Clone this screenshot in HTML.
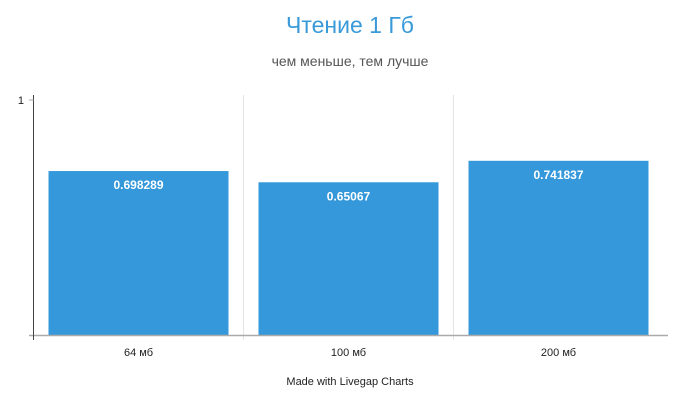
<!DOCTYPE html>
<html><head><meta charset="utf-8"><style>
body{margin:0;width:700px;height:400px;background:#fff;overflow:hidden;font-family:"Liberation Sans Narrow","Liberation Sans","DejaVu Sans",sans-serif;}
svg text{font-family:"Liberation Sans Narrow","Liberation Sans","DejaVu Sans",sans-serif;}
</style></head><body>
<svg id="chart" width="700" height="400" xmlns="http://www.w3.org/2000/svg">
<text x="350" y="33" text-anchor="middle" font-size="23" fill="#3a9ad9">Чтение 1 Гб</text>
<text x="350" y="66" text-anchor="middle" font-size="14" fill="#555">чем меньше, тем лучше</text>
<text x="350" y="385" text-anchor="middle" font-size="11" fill="#222">Made with Livegap Charts</text>
<g id="plot"></g>
</svg>
<script>
const categories = ["64 мб", "100 мб", "200 мб"];
const values = [0.698289, 0.65067, 0.741837];
const yTicks = [1];
const valueLabels = ["0.698289", "0.65067", "0.741837"];

const NS = "http://www.w3.org/2000/svg";
const g = document.getElementById("plot");
const x0 = 33.5, bandW = 210, y0 = 335.5, yTop = 100;
const yScale = v => y0 - v * (y0 - yTop);
const xBand = i => x0 + i * bandW;
function mk(tag, attrs){const e=document.createElementNS(NS,tag);for(const k in attrs)e.setAttribute(k,attrs[k]);g.appendChild(e);return e;}

for (let i = 1; i < categories.length; i++) {
  const l = mk("line",{x1:xBand(i),x2:xBand(i),y1:95,y2:340,stroke:"#e4e4e4","stroke-width":1});
  
  
}
categories.forEach((c, i) => {
  const v = values[i];
  const r = mk("rect",{x:xBand(i)+15,y:yScale(v),width:bandW-30,height:y0-yScale(v),fill:"#3498db"});
  
  
  const t = mk("text",{x:xBand(i)+bandW/2,y:yScale(v)+18,"text-anchor":"middle","font-size":"12","font-weight":"bold",fill:"#fff"});
  t.textContent = valueLabels[i];
  
  
  const xl = mk("text",{x:xBand(i)+bandW/2,y:356,"text-anchor":"middle","font-size":"11",fill:"#222"});
  xl.textContent = c;
  
  
});
const xa = mk("line",{x1:29,x2:668,y1:y0,y2:y0,stroke:"#aaa","stroke-width":1.5});


const ya = mk("line",{x1:x0,x2:x0,y1:95,y2:340,stroke:"#444","stroke-width":1});


yTicks.forEach(v => {
  const tk = mk("line",{x1:29,x2:x0,y1:yScale(v),y2:yScale(v),stroke:"#aaa"});
  
  
  const tl = mk("text",{x:24,y:yScale(v)+4,"text-anchor":"end","font-size":"11",fill:"#222"});
  tl.textContent = v;
  
  
});
</script>
</body></html>
